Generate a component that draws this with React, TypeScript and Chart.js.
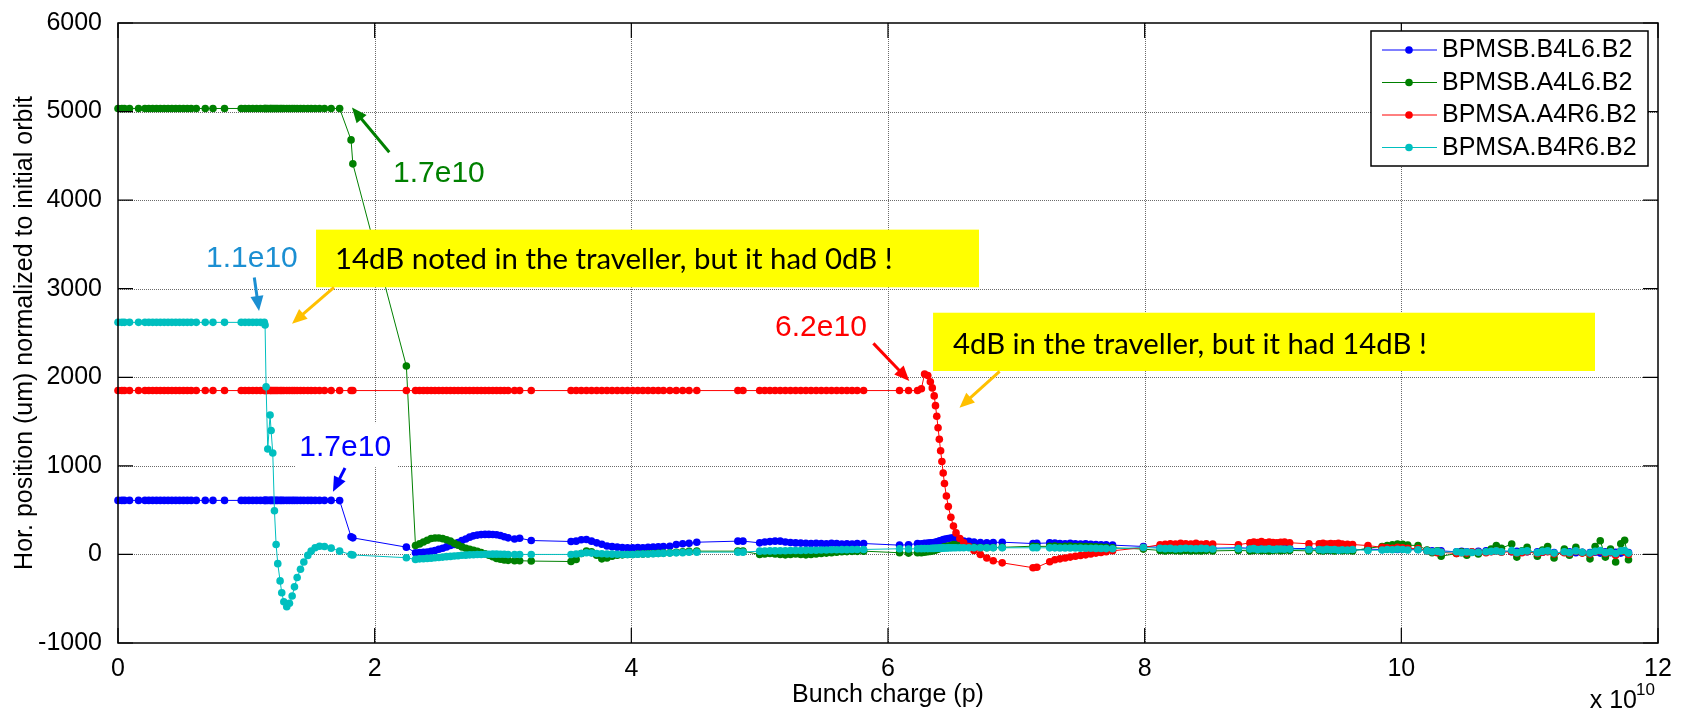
import { useEffect, useRef } from "react";
import { Chart, registerables } from "chart.js";

Chart.register(...registerables);

const FONT = '"Liberation Sans", Arial, Helvetica, sans-serif';
const NOTE_FONT = 'Lato, "Open Sans", sans-serif';

// Bunch charge, in units of 1e10 protons
const charge = [
  0, 0.03, 0.05, 0.09, 0.16,
  0.21, 0.24, 0.27, 0.30, 0.33, 0.36, 0.39, 0.42, 0.45, 0.48, 0.51, 0.54, 0.57, 0.61,
  0.68, 0.74, 0.83,
  0.96, 0.99, 1.02, 1.05, 1.08, 1.11, 1.14, 1.146,
  1.154, 1.167, 1.185, 1.193, 1.206, 1.219, 1.232, 1.245, 1.263,
  1.276, 1.292, 1.315, 1.336, 1.357, 1.375, 1.396, 1.422, 1.448, 1.479,
  1.505, 1.536, 1.570, 1.609, 1.661, 1.727,
  1.816, 1.83, 2.247, 2.318,
  2.35, 2.38, 2.41, 2.44, 2.47, 2.50, 2.53, 2.56, 2.59, 2.62, 2.65, 2.68,
  2.71, 2.74, 2.77, 2.80, 2.83, 2.86, 2.89, 2.92, 2.95, 2.98, 3.01, 3.04,
  3.09, 3.13, 3.22, 3.53,
  3.57, 3.61, 3.65, 3.69, 3.73, 3.77, 3.81, 3.85, 3.89, 3.93, 3.97, 4.01,
  4.05, 4.09, 4.13, 4.17, 4.21, 4.25, 4.30, 4.35, 4.40, 4.45, 4.51,
  4.83, 4.87,
  5.00, 5.04, 5.08, 5.12, 5.16, 5.20, 5.24, 5.28, 5.32, 5.36, 5.40, 5.44,
  5.48, 5.52, 5.56, 5.60, 5.64, 5.68, 5.72, 5.76, 5.81,
  6.09, 6.16, 6.23,
  6.26, 6.285, 6.31, 6.33, 6.345, 6.36, 6.37, 6.38, 6.39, 6.40,
  6.41, 6.42, 6.43, 6.44, 6.455, 6.47, 6.49, 6.51, 6.53, 6.56,
  6.59, 6.63, 6.67, 6.72, 6.77, 6.82, 6.89,
  7.13, 7.16, 7.26, 7.30, 7.34, 7.38, 7.42, 7.46, 7.50,
  7.54, 7.58, 7.62, 7.66, 7.70, 7.75, 7.99,
  8.12, 8.16, 8.20, 8.24, 8.28, 8.32, 8.36, 8.40, 8.44, 8.48, 8.53, 8.73,
  8.82, 8.85, 8.88, 8.91, 8.94, 8.97, 9.00, 9.03, 9.06, 9.09, 9.13, 9.28,
  9.36, 9.39, 9.42, 9.45, 9.48, 9.51, 9.54, 9.58, 9.62, 9.74,
  9.85, 9.89, 9.93, 9.97, 10.01, 10.05, 10.13,
  10.20, 10.24, 10.28, 10.31, 10.43, 10.47, 10.51, 10.55, 10.60,
  10.66, 10.70, 10.74, 10.78, 10.86, 10.90, 10.94, 10.98,
  11.06, 11.10, 11.14, 11.19, 11.27, 11.31, 11.36, 11.41,
  11.47, 11.51, 11.55, 11.59, 11.63, 11.67, 11.71, 11.74, 11.77,
];

const bpmsbB4L6 = [
  610, 610, 610, 610, 610,
  610, 610, 610, 610, 610, 610, 610, 610, 610, 610, 610, 610, 610, 610,
  610, 610, 610,
  610, 610, 610, 610, 610, 610, 610, 610,
  610, 610, 610, 610, 610, 610, 610, 610, 610,
  610, 610, 610, 610, 610, 610, 610, 610, 610, 610,
  610, 610, 610, 610, 610, 608,
  200, 187, 82, 19,
  22, 24, 26, 35, 45, 58, 70, 85, 100, 112, 135, 157,
  175, 195, 210, 218, 224, 226, 226, 225, 222, 213, 200, 187,
  175, 183, 157, 146,
  150, 165, 168, 150, 131, 115, 95, 88, 82, 78, 75, 75,
  78, 75, 80, 82, 85, 90, 93, 112, 120, 125, 138,
  150, 150,
  131, 140, 145, 150, 150, 140, 135, 130, 128, 125, 123, 125,
  122, 120, 125, 122, 118, 120, 118, 122, 123,
  105, 110, 123,
  120, 125, 128, 130, 132, 135, 138, 140, 145, 150,
  155, 160, 165, 170, 175, 180, 185, 187, 175, 160,
  150, 148, 140, 135, 131, 135, 138,
  123, 125, 130, 128, 123, 120, 125, 120, 118,
  120, 115, 112, 110, 108, 105, 90,
  80, 75, 80, 78, 75, 80, 78, 75, 72, 75, 70, 75,
  70, 75, 72, 70, 68, 72, 70, 68, 65, 70, 68, 65,
  60, 55, 50, 45, 50, 55, 50, 55, 50, 60,
  55, 60, 58, 55, 60, 58, 55,
  45, 40, 35, 40, 30, 35, 30, 28, 35,
  40, 35, 45, 40, 30, 35, 25, 30,
  30, 25, 35, 20, 25, 30, 20, 25,
  20, 25, 15, 30, 20, 25, 15, 30, 20,
];

const bpmsbA4L6 = [
  5035, 5035, 5035, 5035, 5035,
  5035, 5035, 5035, 5035, 5035, 5035, 5035, 5035, 5035, 5035, 5035, 5035, 5035, 5035,
  5035, 5035, 5035,
  5035, 5035, 5035, 5035, 5035, 5035, 5035, 5035,
  5035, 5035, 5035, 5035, 5035, 5035, 5035, 5035, 5035,
  5035, 5035, 5035, 5035, 5035, 5035, 5035, 5035, 5035, 5035,
  5035, 5035, 5035, 5035, 5035, 5035,
  4680, 4410, 2127, 101,
  119, 140, 160, 180, 185, 185, 178, 165, 150, 125, 105, 85,
  70, 58, 48, 35, 20, 7, -10, -25, -45, -55, -62, -67,
  -71, -71, -75, -80,
  -56, 10, 37, 30, -10, -50, -40, -20, -10, -5, 0, 0,
  5, 5, 8, 10, 12, 15, 19, 25, 30, 35, 37,
  37, 37,
  0, 5, 10, 5, 0, -5, 0, 5, 0, -5, 0, 5,
  10, 15, 20, 25, 30, 32, 35, 35, 37,
  19, 15, 19,
  20, 25, 30, 35, 40, 45, 50, 55, 60, 65,
  70, 75, 80, 85, 90, 95, 100, 112, 105, 95,
  90, 85, 80, 78, 75, 78, 80,
  93, 90, 92, 95, 90, 92, 95, 90, 92,
  90, 88, 85, 82, 80, 75, 60,
  45, 40, 45, 42, 38, 45, 40, 42, 38, 45, 40, 45,
  40, 45, 50, 42, 48, 40, 45, 50, 42, 48, 45, 40,
  45, 40, 50, 45, 40, 48, 42, 45, 40, 70,
  90, 100, 110, 118, 115, 105, 100,
  50, 20, 40, -20, 10, 30, -10, 25, 5,
  30, 60, 100, 70, 118, -30, 40, 80,
  -20, 50, 90, -40, 60, -10, 80, 20,
  -50, 90, 155, -30, 60, -85, 120, 160, -60,
];

const bpmsaA4R6 = [
  1850, 1850, 1850, 1850, 1850,
  1850, 1850, 1850, 1850, 1850, 1850, 1850, 1850, 1850, 1850, 1850, 1850, 1850, 1850,
  1850, 1850, 1850,
  1850, 1850, 1850, 1850, 1850, 1850, 1850, 1850,
  1850, 1850, 1850, 1850, 1850, 1850, 1850, 1850, 1850,
  1850, 1850, 1850, 1850, 1850, 1850, 1850, 1850, 1850, 1850,
  1850, 1850, 1850, 1850, 1850, 1850,
  1850, 1850, 1850, 1850,
  1850, 1850, 1850, 1850, 1850, 1850, 1850, 1850, 1850, 1850, 1850, 1850,
  1850, 1850, 1850, 1850, 1850, 1850, 1850, 1850, 1850, 1850, 1850, 1850,
  1850, 1850, 1850, 1850,
  1850, 1850, 1850, 1850, 1850, 1850, 1850, 1850, 1850, 1850, 1850, 1850,
  1850, 1850, 1850, 1850, 1850, 1850, 1850, 1850, 1850, 1850, 1850,
  1850, 1850,
  1850, 1850, 1850, 1850, 1850, 1850, 1850, 1850, 1850, 1850, 1850, 1850,
  1850, 1850, 1850, 1850, 1850, 1850, 1850, 1850, 1850,
  1850, 1850, 1850,
  1870, 2037, 2019, 1950, 1880, 1790, 1680, 1560, 1430, 1300,
  1170, 1050, 920, 800, 660, 540, 420, 320, 243, 180,
  131, 90, 45, 0, -41, -71, -95,
  -150, -145, -82, -60, -50, -40, -30, -20, -12,
  -5, 5, 15, 22, 30, 41, 78,
  110, 115, 120, 118, 125, 120, 118, 125, 115, 120, 118, 110,
  130, 140, 135, 145, 130, 140, 135, 130, 138, 140, 132, 120,
  120, 125, 118, 122, 120, 125, 118, 115, 112, 100,
  80, 75, 70, 80, 75, 70, 65,
  40, 30, 20, 25, 10, 20, 15, 30, 25,
  20, 30, 40, 25, 30, 15, 20, 30,
  10, 25, 30, 5, 20, 10, 35, 15,
  5, 30, 40, 10, 25, -10, 40, 30, 0,
];

const bpmsaB4R6 = [
  2620, 2620, 2620, 2620, 2620,
  2620, 2620, 2620, 2620, 2620, 2620, 2620, 2620, 2620, 2620, 2620, 2620, 2620, 2620,
  2620, 2620, 2620,
  2620, 2620, 2620, 2620, 2620, 2620, 2620, 2590,
  1892, 1190, 1575, 1399, 1146, 493, 112, -104, -299,
  -433, -534, -590, -552, -470, -366, -261, -168, -86, -11,
  37, 75, 93, 90, 71, 37,
  -2, -6, -37, -56,
  -50, -48, -45, -42, -38, -35, -30, -25, -22, -18, -15, -10,
  -8, -5, -3, 0, 0, 2, 2, 3, 3, 2, 2, 0,
  0, 0, 0, 0,
  5, 10, 19, 15, 10, 8, 5, 3, 2, 0, 0, 0,
  2, 4, 5, 8, 10, 12, 15, 18, 20, 24, 26,
  26, 26,
  37, 38, 40, 40, 42, 42, 44, 45, 45, 46, 48, 48,
  50, 50, 52, 52, 54, 54, 55, 56, 56,
  64, 62, 64,
  65, 66, 66, 67, 68, 68, 69, 70, 70, 71,
  71, 72, 72, 73, 73, 74, 74, 75, 75, 75,
  75, 75, 75, 75, 75, 75, 75,
  75, 75, 74, 74, 73, 73, 72, 72, 71,
  70, 70, 68, 67, 66, 64, 78,
  70, 65, 68, 62, 65, 70, 66, 64, 68, 65, 62, 65,
  60, 65, 55, 62, 58, 64, 56, 60, 62, 58, 60, 55,
  55, 50, 58, 52, 55, 48, 52, 50, 55, 45,
  50, 55, 52, 58, 55, 50, 52,
  40, 30, 35, 25, 30, 20, 28, 22, 25,
  30, 35, 40, 30, 45, 20, 35, 40,
  20, 35, 40, 15, 30, 20, 40, 25,
  15, 35, 45, 20, 30, 10, 40, 45, 15,
];

const seriesNames = ["BPMSB.B4L6.B2", "BPMSB.A4L6.B2", "BPMSA.A4R6.B2", "BPMSA.B4R6.B2"];
const seriesColors = ["#0000FF", "#008000", "#FF0000", "#00BFBF"];
const seriesValues = [bpmsbB4L6, bpmsbA4L6, bpmsaA4R6, bpmsaB4R6];

const xTickValues = [0, 2, 4, 6, 8, 10, 12];
const yTickValues = [-1000, 0, 1000, 2000, 3000, 4000, 5000, 6000];

// Annotations, anchored in data coordinates (x in 1e10, y in um)
const noteBoxes = [
  { text: "14dB noted in the traveller, but it had 0dB !", x0: 1.543, x1: 6.709, y0: 3016, y1: 3667, tx0: 1.691, tx1: 6.039, ty: 3228 },
  { text: "4dB in the traveller, but it had 14dB !", x0: 6.351, x1: 11.509, y0: 2071, y1: 2729, tx0: 6.506, tx1: 10.20, ty: 2260 },
];
const chargeLabels = [
  { text: "1.1e10", color: "#1B8FD2", x: 0.686, y: 3246 },
  { text: "1.7e10", color: "#008000", x: 2.143, y: 4203 },
  { text: "1.7e10", color: "#0000FF", x: 1.413, y: 1110, bg: [1.379, 2.174, 985, 1483] },
  { text: "6.2e10", color: "#FF0000", x: 5.12, y: 2469 },
];
const arrows = [
  { color: "#008000", from: [2.114, 4541], to: [1.823, 5045] },
  { color: "#1B8FD2", from: [1.062, 3127], to: [1.099, 2748] },
  { color: "#FFC000", from: [1.683, 3016], to: [1.356, 2605] },
  { color: "#0000FF", from: [1.769, 976], to: [1.675, 708] },
  { color: "#FF0000", from: [5.886, 2383], to: [6.166, 1959] },
  { color: "#FFC000", from: [6.87, 2067], to: [6.557, 1657] },
];

function drawArrow(ctx: CanvasRenderingContext2D, x1: number, y1: number, x2: number, y2: number, color: string) {
  const head = 15;
  const half = 6.5;
  const ang = Math.atan2(y2 - y1, x2 - x1);
  const c = Math.cos(ang);
  const s = Math.sin(ang);
  const bx = x2 - head * c;
  const by = y2 - head * s;
  ctx.strokeStyle = color;
  ctx.fillStyle = color;
  ctx.lineWidth = 3;
  ctx.lineCap = "butt";
  ctx.setLineDash([]);
  ctx.beginPath();
  ctx.moveTo(x1, y1);
  ctx.lineTo(bx + 2 * c, by + 2 * s);
  ctx.stroke();
  ctx.beginPath();
  ctx.moveTo(x2, y2);
  ctx.lineTo(bx + half * s, by - half * c);
  ctx.lineTo(bx - half * s, by + half * c);
  ctx.closePath();
  ctx.fill();
}

const gridPlugin = {
  id: "matlabGrid",
  beforeDatasetsDraw(chart: any) {
    const { ctx, chartArea: a, scales } = chart;
    ctx.save();
    ctx.strokeStyle = "#6a6a6a";
    ctx.lineWidth = 1;
    ctx.setLineDash([1, 1]);
    ctx.beginPath();
    for (const v of xTickValues) {
      if (v <= 0 || v >= 12) continue;
      const p = Math.round(scales.x.getPixelForValue(v)) + 0.5;
      ctx.moveTo(p, a.top);
      ctx.lineTo(p, a.bottom);
    }
    for (const v of yTickValues) {
      if (v <= -1000 || v >= 6000) continue;
      const p = Math.round(scales.y.getPixelForValue(v)) + 0.5;
      ctx.moveTo(a.left, p);
      ctx.lineTo(a.right, p);
    }
    ctx.stroke();
    ctx.restore();
  },
};

const overlayPlugin = {
  id: "overlay",
  afterDraw(chart: any) {
    const { ctx, chartArea: a, scales } = chart;
    const X = (v: number) => scales.x.getPixelForValue(v);
    const Y = (v: number) => scales.y.getPixelForValue(v);
    ctx.save();

    // yellow note boxes
    for (const b of noteBoxes) {
      const l = X(b.x0), r = X(b.x1), t = Y(b.y1), bt = Y(b.y0);
      ctx.fillStyle = "#FFFF00";
      ctx.fillRect(l, t, r - l, bt - t);
      ctx.font = `100px ${NOTE_FONT}`;
      const w = ctx.measureText(b.text).width;
      const size = (100 * (X(b.tx1) - X(b.tx0))) / w;
      ctx.font = `${size.toFixed(2)}px ${NOTE_FONT}`;
      ctx.fillStyle = "#000";
      ctx.textAlign = "left";
      ctx.textBaseline = "alphabetic";
      ctx.fillText(b.text, X(b.tx0), Y(b.ty));
    }

    // charge labels
    for (const lb of chargeLabels) {
      if (lb.bg) {
        const [x0, x1, y0, y1] = lb.bg;
        ctx.fillStyle = "#fff";
        ctx.fillRect(X(x0), Y(y1), X(x1) - X(x0), Y(y0) - Y(y1));
      }
      ctx.font = `30px ${FONT}`;
      ctx.fillStyle = lb.color;
      ctx.textAlign = "left";
      ctx.textBaseline = "alphabetic";
      ctx.fillText(lb.text, X(lb.x), Y(lb.y));
    }

    // arrows
    for (const ar of arrows) {
      drawArrow(ctx, X(ar.from[0]), Y(ar.from[1]), X(ar.to[0]), Y(ar.to[1]), ar.color);
    }

    // frame + inward ticks
    ctx.setLineDash([]);
    ctx.strokeStyle = "#000";
    ctx.lineWidth = 1.5;
    ctx.strokeRect(a.left, a.top, a.right - a.left, a.bottom - a.top);
    ctx.lineWidth = 1.2;
    ctx.beginPath();
    const tl = 15;
    for (const v of xTickValues) {
      const p = X(v);
      ctx.moveTo(p, a.bottom);
      ctx.lineTo(p, a.bottom - tl);
      ctx.moveTo(p, a.top);
      ctx.lineTo(p, a.top + tl);
    }
    for (const v of yTickValues) {
      const p = Y(v);
      ctx.moveTo(a.left, p);
      ctx.lineTo(a.left + tl, p);
      ctx.moveTo(a.right, p);
      ctx.lineTo(a.right - tl, p);
    }
    ctx.stroke();

    // legend
    const lr = a.right - 10;
    const ll = lr - 277;
    const lt = a.top + 8;
    const lh = 135;
    ctx.fillStyle = "#fff";
    ctx.fillRect(ll, lt, lr - ll, lh);
    ctx.strokeStyle = "#000";
    ctx.lineWidth = 1.5;
    ctx.strokeRect(ll, lt, lr - ll, lh);
    ctx.font = `25px ${FONT}`;
    ctx.textAlign = "left";
    ctx.textBaseline = "middle";
    seriesNames.forEach((name, i) => {
      const cy = lt + 18.5 + i * 32.5;
      ctx.strokeStyle = seriesColors[i];
      ctx.lineWidth = 1;
      ctx.beginPath();
      ctx.moveTo(ll + 11, cy + 0.5);
      ctx.lineTo(ll + 66, cy + 0.5);
      ctx.stroke();
      ctx.fillStyle = seriesColors[i];
      ctx.beginPath();
      ctx.arc(ll + 38, cy + 0.5, 3.8, 0, Math.PI * 2);
      ctx.fill();
      ctx.fillStyle = "#000";
      ctx.fillText(name, ll + 71, cy + 1);
    });

    // exponent label
    ctx.fillStyle = "#000";
    ctx.textBaseline = "alphabetic";
    ctx.textAlign = "right";
    ctx.font = `25px ${FONT}`;
    ctx.fillText("x 10", a.right - 21, 708);
    ctx.textAlign = "left";
    ctx.font = `17px ${FONT}`;
    ctx.fillText("10", a.right - 22, 695);

    ctx.restore();
  },
};

export default function App() {
  const ref = useRef<HTMLCanvasElement | null>(null);

  useEffect(() => {
    const canvas = ref.current;
    if (!canvas) return;
    const datasets = seriesValues.map((vals, i) => ({
      label: seriesNames[i],
      data: charge.map((x, k) => ({ x, y: vals[k] })),
      borderColor: seriesColors[i],
      backgroundColor: seriesColors[i],
      pointBackgroundColor: seriesColors[i],
      pointBorderColor: seriesColors[i],
      pointBorderWidth: 0,
      pointRadius: 3.8,
      pointHoverRadius: 3.8,
      borderWidth: 1,
      tension: 0,
      fill: false,
      clip: false as any,
      order: 4 - i,
    }));

    const chart = new Chart(canvas, {
      type: "line",
      data: { datasets },
      options: {
        responsive: false,
        animation: false,
        devicePixelRatio: 1,
        events: [],
        layout: { padding: { left: 0, top: 16, right: 23, bottom: 0 } },
        plugins: { legend: { display: false }, tooltip: { enabled: false } },
        scales: {
          x: {
            type: "linear",
            min: 0,
            max: 12,
            afterBuildTicks: (s: any) => {
              s.ticks = xTickValues.map((v) => ({ value: v }));
            },
            afterFit: (s: any) => {
              s.height = 70;
            },
            grid: { display: false },
            border: { display: false },
            ticks: {
              autoSkip: false,
              maxRotation: 0,
              padding: 3.5,
              color: "#000",
              font: { family: FONT, size: 25 },
              callback: (v: any) => String(v),
            },
            title: {
              display: true,
              text: "Bunch charge (p)",
              color: "#000",
              font: { family: FONT, size: 25 },
              padding: { top: 0, bottom: 3 },
            },
          },
          y: {
            type: "linear",
            min: -1000,
            max: 6000,
            afterBuildTicks: (s: any) => {
              s.ticks = yTickValues.map((v) => ({ value: v }));
            },
            afterFit: (s: any) => {
              s.width = 118;
            },
            grid: { display: false },
            border: { display: false },
            ticks: {
              autoSkip: false,
              padding: 8,
              color: "#000",
              font: { family: FONT, size: 25 },
              callback: (v: any) => String(v),
            },
            title: {
              display: true,
              text: "Hor. position (um) normalized to initial orbit",
              color: "#000",
              font: { family: FONT, size: 25 },
              padding: { top: 10.5, bottom: 0 },
            },
          },
        },
      },
      plugins: [gridPlugin, overlayPlugin],
    } as any);

    return () => chart.destroy();
  }, []);

  return (
    <div style={{ position: "absolute", left: 0, top: 0, width: 1681, height: 713, background: "#fff" }}>
      <canvas ref={ref} width={1681} height={713} style={{ display: "block", width: 1681, height: 713 }} />
    </div>
  );
}
